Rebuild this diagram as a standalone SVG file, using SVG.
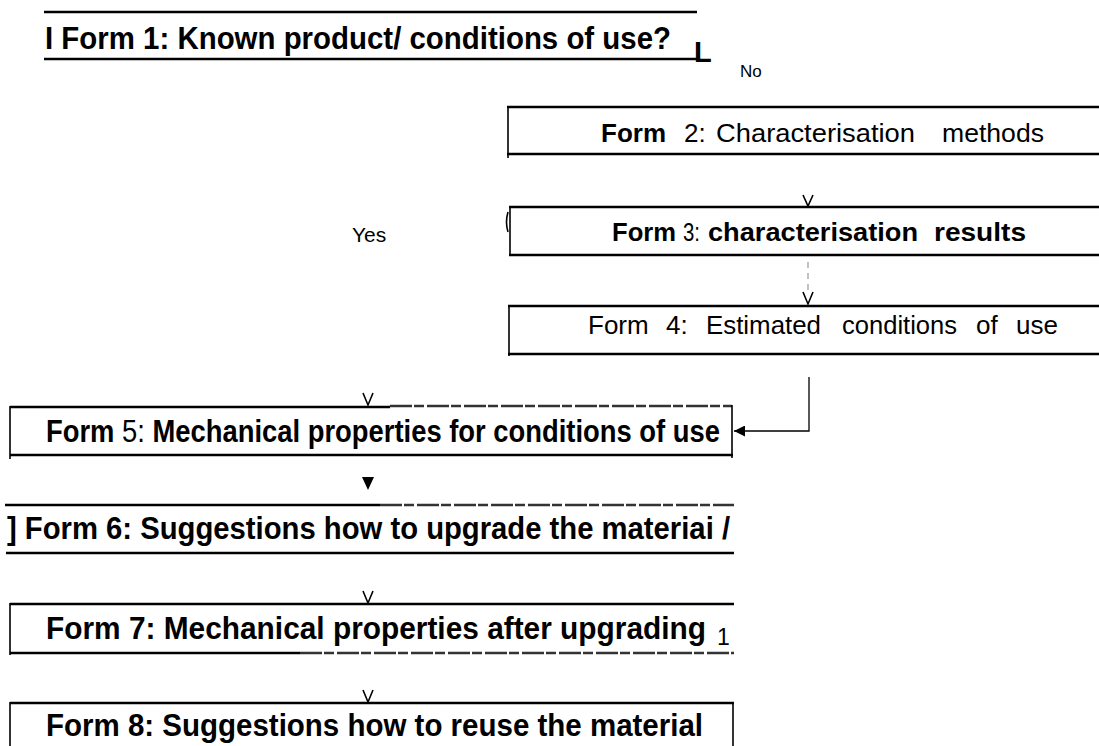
<svg xmlns="http://www.w3.org/2000/svg" width="1099" height="746" viewBox="0 0 1099 746">
<style>
.rule{stroke:#000;stroke-width:2.5;fill:none}
.side{stroke:#000;stroke-width:1.6;fill:none}
.worn{stroke:#333;stroke-width:2.5;stroke-dasharray:22 2 10 3;fill:none}
.t{font-family:"Liberation Sans",Arial,sans-serif;fill:#000}
.b{font-weight:bold}
.big{font-size:32px}
.mid{font-size:26px}
.small{font-size:17px}
.head{stroke:#000;stroke-width:1.6;fill:none}
.faint{stroke:#999;stroke-width:1.2;stroke-dasharray:6 5;fill:none}
.wire{stroke:#000;stroke-width:1.3;fill:none}
</style>
<defs>
<marker id="tip" viewBox="0 0 10 10" refX="10" refY="5" markerWidth="11" markerHeight="11" markerUnits="userSpaceOnUse" orient="auto">
<path d="M0,0 L10,5 L0,10 z" fill="#000"/>
</marker>
</defs>

<!-- Form 1: question line -->
<g id="form1">
<line class="rule" x1="44" y1="12" x2="697" y2="12"/>
<line class="rule" x1="44" y1="59" x2="697" y2="59"/>
<text class="t b big" x="45" y="49" textLength="626" lengthAdjust="spacingAndGlyphs">I Form 1: Known product/ conditions of use?</text>
<text class="t b" x="694" y="62" font-size="29">L</text>
</g>
<text id="label-no" class="t small" x="740" y="77">No</text>
<text id="label-yes" class="t" x="352" y="242" font-size="21">Yes</text>

<!-- Form 2 -->
<g id="form2">
<line class="rule" x1="507" y1="107" x2="1099" y2="107"/>
<line class="rule" x1="507" y1="154" x2="1099" y2="154"/>
<line class="side" x1="508" y1="106" x2="508" y2="158"/>
<text class="t mid"><tspan class="b" x="601" y="142">Form</tspan><tspan x="684" y="142">2:</tspan><tspan x="716" y="142" textLength="199" lengthAdjust="spacingAndGlyphs">Characterisation</tspan><tspan x="942" y="142" textLength="102" lengthAdjust="spacingAndGlyphs">methods</tspan></text>
</g>

<!-- Form 3 -->
<g id="form3">
<line class="rule" x1="509" y1="207" x2="1099" y2="207"/>
<line class="rule" x1="509" y1="255" x2="1099" y2="255"/>
<line class="side" x1="510" y1="206" x2="510" y2="256"/>
<path class="side" d="M508,212 Q505,222 508,232"/>
<text class="t mid"><tspan class="b" x="612" y="241" textLength="64" lengthAdjust="spacingAndGlyphs">Form</tspan><tspan x="683" y="241" textLength="17" lengthAdjust="spacingAndGlyphs">3:</tspan><tspan class="b" x="708" y="241" textLength="210" lengthAdjust="spacingAndGlyphs">characterisation</tspan><tspan class="b" x="934" y="241" textLength="92" lengthAdjust="spacingAndGlyphs">results</tspan></text>
</g>

<!-- Form 4 -->
<g id="form4">
<line class="rule" x1="508" y1="306" x2="1099" y2="306"/>
<line class="rule" x1="508" y1="354" x2="1099" y2="354"/>
<line class="side" x1="509" y1="305" x2="509" y2="356"/>
<text class="t mid"><tspan x="588" y="334">Form</tspan><tspan x="666" y="334">4:</tspan><tspan x="706" y="334" textLength="115" lengthAdjust="spacingAndGlyphs">Estimated</tspan><tspan x="842" y="334" textLength="115" lengthAdjust="spacingAndGlyphs">conditions</tspan><tspan x="976" y="334">of</tspan><tspan x="1016" y="334">use</tspan></text>
</g>

<!-- Form 5 -->
<g id="form5">
<line class="rule" x1="10" y1="407" x2="390" y2="407"/>
<line class="worn" x1="390" y1="406" x2="732" y2="406"/>
<line class="rule" x1="10" y1="455" x2="733" y2="455"/>
<line class="side" x1="10" y1="406" x2="10" y2="459"/>
<line class="side" x1="732" y1="405" x2="732" y2="458"/>
<text class="t b big" x="46" y="442" textLength="674" lengthAdjust="spacingAndGlyphs">Form <tspan font-weight="normal">5:</tspan> Mechanical properties for conditions of use</text>
</g>

<!-- Form 6 -->
<g id="form6">
<line class="rule" x1="5" y1="505" x2="380" y2="505" stroke-width="3"/>
<line class="worn" x1="380" y1="505" x2="734" y2="505"/>
<line class="rule" x1="6" y1="553" x2="734" y2="553"/>
<text class="t b big" x="7" y="539" textLength="723" lengthAdjust="spacingAndGlyphs">] Form 6: Suggestions how to upgrade the materiai /</text>
</g>

<!-- Form 7 -->
<g id="form7">
<line class="rule" x1="10" y1="604" x2="734" y2="604"/>
<line class="rule" x1="10" y1="653" x2="300" y2="653"/>
<line class="worn" x1="300" y1="653" x2="734" y2="653"/>
<line class="side" x1="10" y1="603" x2="10" y2="655"/>
<text class="t b big" x="46" y="639" textLength="660" lengthAdjust="spacingAndGlyphs">Form 7: Mechanical properties after upgrading</text>
<text class="t" x="717" y="645" font-size="23">1</text>
</g>

<!-- Form 8 -->
<g id="form8">
<line class="rule" x1="10" y1="703" x2="734" y2="703"/>
<line class="side" x1="10" y1="702" x2="10" y2="746"/>
<line class="side" x1="733" y1="702" x2="733" y2="746"/>
<text class="t b big" x="46" y="736" textLength="657" lengthAdjust="spacingAndGlyphs">Form 8: Suggestions how to reuse the material</text>
</g>

<!-- connectors -->
<g id="connectors">
<path class="head" d="M803,195 L808,206 L813,195"/>
<line class="faint" x1="808" y1="262" x2="808" y2="290"/>
<path class="head" d="M803,292 L808,304 L813,292"/>
<path class="wire" d="M809,377 L809,431 L734,431" marker-end="url(#tip)"/>
<path class="head" d="M363,393 L368,405 L373,393"/>
<path d="M362,477 L374,477 L368,490 z" fill="#000"/>
<path class="head" d="M363,591 L368,603 L373,591"/>
<path class="head" d="M363,690 L368,702 L373,690"/>
</g>
</svg>
